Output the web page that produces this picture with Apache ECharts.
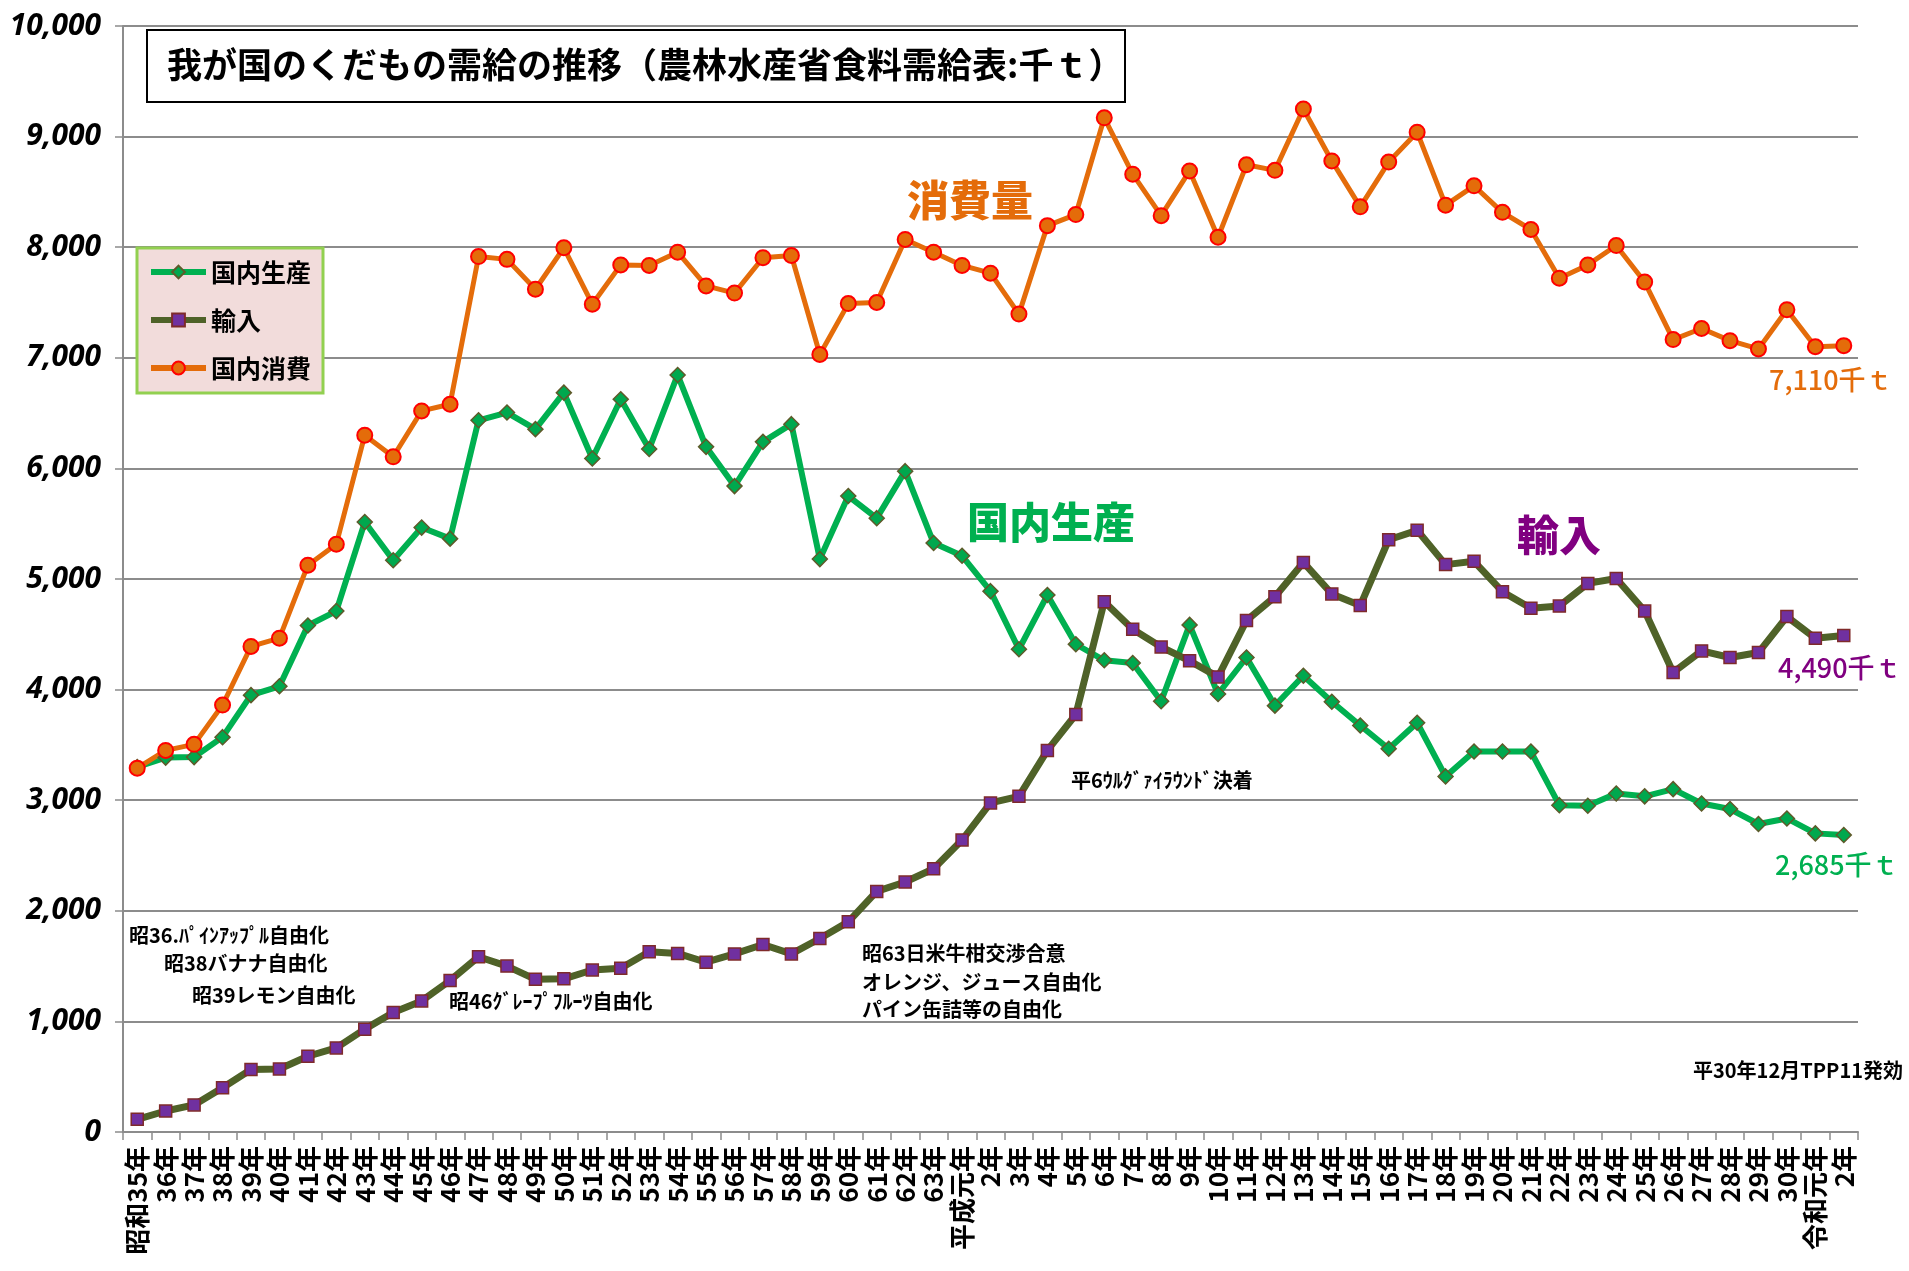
<!DOCTYPE html>
<html>
<head>
<meta charset="utf-8">
<script src="https://cdn.jsdelivr.net/npm/echarts@6/dist/echarts.min.js"></script>
<style>
html,body{margin:0;padding:0;background:#fff;}
#c{width:1909px;height:1271px;}
</style>
</head>
<body>
<div id="c"></div>
<script>
const categories = ['昭和35年','36年','37年','38年','39年','40年','41年','42年','43年','44年','45年','46年','47年','48年','49年','50年','51年','52年','53年','54年','55年','56年','57年','58年','59年','60年','61年','62年','63年','平成元年','2年','3年','4年','5年','6年','7年','8年','9年','10年','11年','12年','13年','14年','15年','16年','17年','18年','19年','20年','21年','22年','23年','24年','25年','26年','27年','28年','29年','30年','令和元年','2年'];

const production = [3300,3385,3390,3570,3950,4030,4580,4710,5515,5170,5465,5365,6435,6505,6355,6685,6090,6625,6175,6845,6195,5840,6240,6400,5180,5750,5550,5975,5325,5210,4890,4365,4855,4410,4265,4240,3895,4585,3960,4290,3855,4125,3890,3675,3465,3700,3215,3440,3440,3440,2955,2950,3060,3035,3100,2970,2920,2785,2835,2700,2685];

const imports = [115,190,245,400,565,570,685,760,930,1080,1185,1370,1585,1500,1380,1385,1465,1480,1630,1615,1535,1610,1695,1610,1750,1900,2175,2260,2380,2640,2975,3035,3450,3775,4795,4545,4385,4260,4115,4625,4840,5150,4865,4760,5355,5440,5130,5160,4885,4735,4755,4960,5005,4710,4155,4350,4290,4335,4660,4465,4490];

const consumption = [3290,3450,3505,3860,4390,4465,5125,5315,6300,6105,6520,6580,7915,7890,7620,7995,7485,7840,7835,7955,7650,7585,7905,7925,7030,7490,7500,8070,7955,7835,7765,7395,8195,8295,9170,8660,8285,8690,8090,8745,8695,9250,8780,8365,8770,9040,8380,8555,8315,8160,7720,7840,8015,7685,7165,7265,7155,7080,7435,7100,7110];

const seriesNames = ['国内生産','輸入','国内消費'];
const yTicks = {min:0, max:10000, interval:1000};

const titleText = '我が国のくだもの需給の推移（農林水産省食料需給表:千ｔ）';
const notes = [
  {t:'昭36.ﾊﾟｲﾝｱｯﾌﾟﾙ自由化', x:129, y:935, a:'left'},
  {t:'昭38バナナ自由化', x:164, y:963, a:'left'},
  {t:'昭39レモン自由化', x:192, y:995, a:'left'},
  {t:'昭46ｸﾞﾚｰﾌﾟﾌﾙｰﾂ自由化', x:449, y:1001, a:'left'},
  {t:'昭63日米牛柑交渉合意', x:862, y:953, a:'left'},
  {t:'オレンジ、ジュース自由化', x:862, y:982, a:'left'},
  {t:'パイン缶詰等の自由化', x:862, y:1009, a:'left'},
  {t:'平6ｳﾙｸﾞｧｲﾗｳﾝﾄﾞ決着', x:1071, y:780, a:'left'},
  {t:'平30年12月TPP11発効', x:1903, y:1070, a:'right'}
];
const bigLabels = [
  {t:'消費量', x:907, y:200, c:'#E46C0A'},
  {t:'国内生産', x:967, y:522, c:'#00B050'},
  {t:'輸入', x:1517, y:535, c:'#800080'}
];
const endLabels = [
  {t:'7,110千ｔ', x:1769, y:380, c:'#E46C0A'},
  {t:'4,490千ｔ', x:1778, y:668, c:'#800080'},
  {t:'2,685千ｔ', x:1775, y:865, c:'#00B050'}
];

const JP = '"Noto Sans CJK JP", "Noto Sans", sans-serif';

const graphics = [
  {type:'rect', shape:{x:147, y:30, width:978, height:72}, style:{fill:'#fff', stroke:'#000', lineWidth:2}, z:100},
  {type:'text', x:167, y:65, style:{text:titleText, font:'bold 35px ' + JP, fill:'#000', textAlign:'left', textVerticalAlign:'middle'}, z:101}
];
notes.forEach(n => graphics.push({type:'text', x:n.x, y:n.y, style:{text:n.t, font:'bold 20px ' + JP, fill:'#000', textAlign:n.a, textVerticalAlign:'middle'}, z:100}));
bigLabels.forEach(n => graphics.push({type:'text', x:n.x, y:n.y, style:{text:n.t, font:'900 42px ' + JP, fill:n.c, textAlign:'left', textVerticalAlign:'middle'}, z:100}));
endLabels.forEach(n => graphics.push({type:'text', x:n.x, y:n.y, style:{text:n.t, font:'500 27px ' + JP, fill:n.c, textAlign:'left', textVerticalAlign:'middle'}, z:100}));

const chart = echarts.init(document.getElementById('c'), null, {renderer:'canvas'});
chart.setOption({
  animation:false,
  backgroundColor:'#fff',
  grid:{left:123, right:51, top:26, bottom:139},
  legend:{
    orient:'vertical', left:137, top:248,
    backgroundColor:'#F2DCDB', borderColor:'#92D050', borderWidth:3,
    padding:[11,12,12,11], itemGap:22, itemWidth:55, itemHeight:16, itemTextGap:5,
    lineStyle:{width:6},
    textStyle:{fontFamily:JP, fontSize:25, fontWeight:'bold', color:'#000', lineHeight:26},
    data:seriesNames
  },
  xAxis:{
    type:'category', data:categories, boundaryGap:true,
    axisLine:{lineStyle:{color:'#8C8C8C', width:2}},
    axisTick:{show:true, interval:0, length:8, lineStyle:{color:'#8C8C8C', width:1.5}},
    axisLabel:{interval:0, rotate:90, margin:14, color:'#000', fontFamily:JP, fontSize:26, fontWeight:'bold'}
  },
  yAxis:{
    type:'value', min:yTicks.min, max:yTicks.max, interval:yTicks.interval,
    axisLine:{show:true, lineStyle:{color:'#8C8C8C', width:2}},
    axisTick:{show:true, length:8, lineStyle:{color:'#8C8C8C', width:1.5}},
    splitLine:{lineStyle:{color:'#8C8C8C', width:2}},
    axisLabel:{margin:22, color:'#000', fontFamily:'"Noto Sans", sans-serif', fontSize:30, fontWeight:'bold', fontStyle:'italic',
      formatter:v => v.toLocaleString('en-US')}
  },
  series:[
    {name:seriesNames[0], type:'line', data:production, symbol:'diamond', symbolSize:15,
      lineStyle:{color:'#00B050', width:6}, itemStyle:{color:'#00A84E', borderColor:'#5E5A2A', borderWidth:1.5}},
    {name:seriesNames[1], type:'line', data:imports, symbol:'rect', symbolSize:12,
      lineStyle:{color:'#4F6228', width:7}, itemStyle:{color:'#7030A0', borderColor:'#7F2A2A', borderWidth:1.5}},
    {name:seriesNames[2], type:'line', data:consumption, symbol:'circle', symbolSize:15,
      lineStyle:{color:'#E46C0A', width:5}, itemStyle:{color:'#E46C0A', borderColor:'#FF0000', borderWidth:2}}
  ],
  graphic:graphics
});
</script>
</body>
</html>
